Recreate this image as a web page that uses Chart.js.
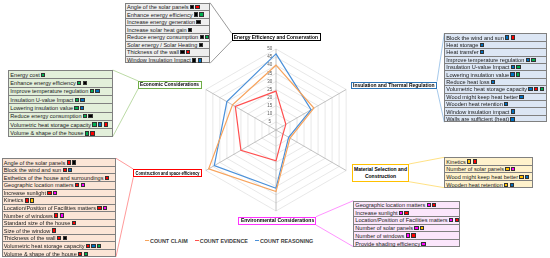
<!DOCTYPE html>
<html><head><meta charset="utf-8">
<script src="https://cdn.jsdelivr.net/npm/chart.js@4/dist/chart.umd.min.js"></script>
<style>
html,body{margin:0;padding:0;background:#fff;}
body{width:550px;height:258px;position:relative;overflow:hidden;font-family:"Liberation Sans",Arial,sans-serif;}
#wrap{position:absolute;left:192px;top:45px;width:168px;height:171px;}
.tbl{position:absolute;box-sizing:border-box;border:0.7px solid #808080;}
.row{box-sizing:border-box;border-bottom:0.6px solid #808080;font-size:5.6px;color:#1a1a1a;white-space:nowrap;display:flex;align-items:center;padding-left:1px;overflow:hidden;}
.row:last-child{border-bottom:none;}
.sq{display:inline-block;width:4.3px;height:4.3px;margin-left:1.3px;box-sizing:border-box;border:0.5px solid #333;flex:none;}
.ttl{position:absolute;box-sizing:border-box;background:#fff;font-weight:bold;font-size:5.6px;color:#000;display:flex;align-items:center;justify-content:center;text-align:center;white-space:nowrap;line-height:1.25;}
.ttl span{display:inline-block;transform-origin:center center;}
svg{position:absolute;left:0;top:0;}
#legend{position:absolute;left:145px;top:237.5px;display:flex;align-items:center;font-weight:bold;font-size:5.4px;color:#404040;}
#legend .it{display:flex;align-items:center;margin-right:7px;}
#legend .mk{width:4px;height:1.6px;margin-right:1px;}
</style></head>
<body>
<svg id="lines" width="550" height="258"></svg>
<div id="wrap"><canvas id="c" width="168" height="171"></canvas></div>
<div id="legend"></div>
<script>
// ---- data ----
const categories = ["Energy Efficiency and Conservation","Insulation and Thermal Regulation",["Material Selection and","Construction"],"Environmental Considerations","Construction and space efficiency","Economic Considerations"];
const seriesNames = ["COUNT CLAIM","COUNT EVIDENCE","COUNT REASONING"];
const countClaim = [40,27,10,38,48,31];
const countEvidence = [24,7,5,19,25,29];
const countReasoning = [47,25,9,36,44,35];
const tickMin = 0, tickMax = 50, tickStep = 5;

// table entries: [text, colour codes]  k=black r=red g=green b=blue y=yellow m=magenta
const energyItems = [["Angle of the solar panels","kr"],["Enhance energy efficiency","kg"],["Increase energy generation","k"],["Increase solar heat gain","k"],["Reduce energy consumption","kg"],["Solar energy / Solar Heating","k"],["Thickness of the wall","kr"],["Window Insulation Impact","kb"]];
const insulationItems = [["Block the wind and sun","br"],["Heat storage","b"],["Heat transfer","b"],["Improve temperature regulation","bg"],["Insulation U-value Impact","bg"],["Lowering insulation value","bg"],["Reduce heat loss","b"],["Volumetric heat storage  capacity","brg"],["Wood might keep heat better","b"],["Wooden heat retention","b"],["Window insulation impact","b"],["Walls are sufficient (heat)","b"]];
const materialItems = [["Kinetics","yr"],["Number of solar panels","ym"],["Wood might keep heat better","yb"],["Wooden heat retention","yb"]];
const environmentalItems = [["Geographic location matters","mr"],["Increase sunlight","mr"],["Location/Position of Facilities matters","mr"],["Number of solar panels","my"],["Number of windows","mr"],["Provide shading efficiency","m"]];
const constructionItems = [["Angle of the solar panels","rk"],["Block the wind and sun","rb"],["Esthetics of the house and surroundings","r"],["Geographic location matters","rm"],["Increase sunlight","rm"],["Kinetics","ry"],["Location/Position of Facilities matters","rm"],["Number of windows","rm"],["Standard size of the house","r"],["Size of the window","r"],["Thickness of the wall","rk"],["Volumetric heat storage  capacity","rbg"],["Volume & shape of the house","rg"]];
const economicItems = [["Energy cost","g"],["Enhance energy efficiency","gk"],["Improve temperature regulation","gb"],["Insulation U-value Impact","gb"],["Lowering insulation value","gb"],["Reduce energy consumption","gk"],["Volumetric heat storage  capacity","gbr"],["Volume & shape of the house","gr"]];

// ---- styles / layout ----
const codeColors = {k:"#000000",r:"#ff0000",g:"#00b050",b:"#0070c0",y:"#ffc000",m:"#ff00ff"};
const seriesColors = ["#f7a35c","#ff4f4f","#4a90d9"];
const groups = [
 {cat:0, items:energyItems, tbl:[125,2.7,85,60.6], ttl:[231.7,33.3,89,7.6], bg:"#eeeeee", bc:"#000000", bw:1.4, lc:"#808080", tblLeft:true},
 {cat:1, items:insulationItems, tbl:[444.3,33.3,102.4,89], ttl:[351,81.5,86,7.6], bg:"#dce6f4", bc:"#2e75b6", bw:1.2, lc:"#8fbbe6", tblLeft:false},
 {cat:2, items:materialItems, tbl:[444.3,157.3,88.4,30.4], ttl:[351.7,164,57.3,17.7], bg:"#fff2cc", bc:"#ffc000", bw:1.2, lc:"#ffd966", tblLeft:false},
 {cat:3, items:environmentalItems, tbl:[353.3,200.7,106.7,46], ttl:[238.3,216.7,77.7,8.3], bg:"#fbe6fb", bc:"#ff33ff", bw:1.2, lc:"#ff77ff", tblLeft:false},
 {cat:4, items:constructionItems, tbl:[1.7,158.3,114.3,98.4], ttl:[133.3,169,68.4,8.3], bg:"#fbe5d6", bc:"#ff0000", bw:1.2, lc:"#ff8080", tblLeft:true},
 {cat:5, items:economicItems, tbl:[8.3,70,104.4,66.7], ttl:[138.3,81,63.4,7.5], bg:"#e2efda", bc:"#70ad47", bw:1.2, lc:"#a9d18e", tblLeft:true}
];

const svg = document.getElementById('lines');
function line(x1,y1,x2,y2,c){
  const l=document.createElementNS('http://www.w3.org/2000/svg','line');
  l.setAttribute('x1',x1);l.setAttribute('y1',y1);l.setAttribute('x2',x2);l.setAttribute('y2',y2);
  l.setAttribute('stroke',c);l.setAttribute('stroke-width','0.8');svg.appendChild(l);
}
groups.forEach(g=>{
  const [tx,ty,tw,th]=g.tbl, [bx,by,bw,bh]=g.ttl;
  if(g.tblLeft){ line(tx+tw,ty,bx,by,g.lc); line(tx+tw,ty+th,bx,by+bh,g.lc); }
  else { line(tx,ty,bx+bw,by,g.lc); line(tx,ty+th,bx+bw,by+bh,g.lc); }
  const t=document.createElement('div'); t.className='tbl';
  Object.assign(t.style,{left:tx+'px',top:ty+'px',width:tw+'px',height:th+'px',background:g.bg});
  const rh=th/g.items.length;
  g.items.forEach(([txt,codes])=>{
    const r=document.createElement('div'); r.className='row'; r.style.height=rh+'px';
    const s=document.createElement('span'); s.textContent=txt; r.appendChild(s);
    for(const ch of codes){const q=document.createElement('span');q.className='sq';q.style.background=codeColors[ch];r.appendChild(q);}
    t.appendChild(r);
  });
  document.body.appendChild(t);
  const b=document.createElement('div'); b.className='ttl';
  Object.assign(b.style,{left:bx+'px',top:by+'px',width:bw+'px',height:bh+'px',border:g.bw+'px solid '+g.bc});
  const sp=document.createElement('span');
  const lab=categories[g.cat];
  if(Array.isArray(lab)){ lab.forEach((p,i)=>{ if(i) sp.appendChild(document.createElement('br')); sp.appendChild(document.createTextNode(p)); }); }
  else sp.textContent=lab;
  b.appendChild(sp); document.body.appendChild(b);
  const avail=bw-2*g.bw-2, w=sp.getBoundingClientRect().width;
  if(w>avail) sp.style.transform='scaleX('+(avail/w)+')';
});

// legend
const lg=document.getElementById('legend');
seriesNames.forEach((n,i)=>{
  const it=document.createElement('div'); it.className='it';
  const mk=document.createElement('div'); mk.className='mk'; mk.style.background=seriesColors[i];
  const tx=document.createElement('span'); tx.textContent=n;
  it.appendChild(mk); it.appendChild(tx); lg.appendChild(it);
});

// chart
const seriesData=[countClaim,countEvidence,countReasoning];
new Chart(document.getElementById('c'),{
  type:'radar',
  data:{labels:categories,datasets:seriesNames.map((n,i)=>({label:n,data:seriesData[i],borderColor:seriesColors[i],backgroundColor:'transparent',borderWidth:1.2,pointRadius:0,pointHoverRadius:0,fill:false,tension:0}))},
  options:{responsive:false,animation:false,layout:{padding:0},
    plugins:{legend:{display:false},tooltip:{enabled:false}},
    scales:{r:{min:tickMin,max:tickMax,
      ticks:{stepSize:tickStep,font:{size:4.5,family:'Liberation Sans'},color:'#595959',showLabelBackdrop:false,backdropPadding:0,callback:v=>v+'\u00a0'.repeat(10)},
      grid:{color:'#e2e2e2',lineWidth:0.8},
      angleLines:{color:'#b3b3b3',lineWidth:0.8},
      pointLabels:{display:false}}}}
});
</script>
</body></html>
